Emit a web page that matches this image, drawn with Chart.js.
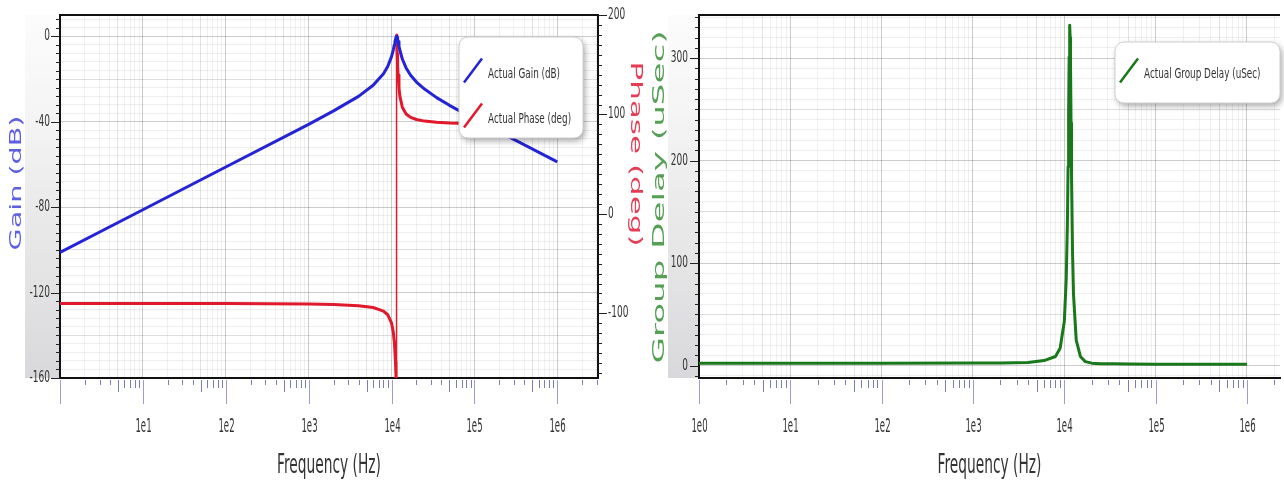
<!DOCTYPE html>
<html>
<head>
<meta charset="utf-8">
<script src="https://cdn.jsdelivr.net/npm/chart.js@4.4.1/dist/chart.umd.min.js"></script>
<style>
  html, body { margin: 0; padding: 0; background: #fff; }
  #wrap { position: relative; width: 1284px; height: 484px; overflow: hidden; }
  .box { position: absolute; top: 0; height: 484px; }
  #leftBox { left: 0; width: 645px; }
  #rightBox { left: 645px; width: 639px; }
</style>
</head>
<body>
<div id="wrap">
  <div class="box" id="leftBox"><canvas id="bodeChart"></canvas></div>
  <div class="box" id="rightBox"><canvas id="delayChart"></canvas></div>
</div>
<script>
// Values
const freqHz = [1, 10, 100, 1000, 2000, 4000, 6000, 8000, 9000, 10000,
  10500, 10800, 11000, 11150, 11300, 11400, 11500, 11600, 11700, 11850,
  12000, 12300, 12600, 13500, 15000, 17000, 20000, 25000, 35000, 50000,
  100000, 1000000]
const gainDb = [-101.2, -81.2, -61.2, -41.2, -34.9, -28.1, -22.9, -17.5, -14.1, -9.5,
  -6.4, -4.1, -2.5, -1.4, -0.5, -0.1, 0, -0.1, -0.5, -1.3,
  -2.4, -4.5, -6.4, -10.6, -14.8, -18.2, -21.4, -24.7, -28.7, -32.3,
  -38.7, -58.8]

// phase wraps from -180 to +180 at the resonance, so that frequency appears twice
const phaseFreqHz = [1, 10, 100, 1000, 2000, 4000, 6000, 8000, 9000, 10000,
  10500, 10800, 11000, 11150, 11300, 11400, 11500, 11500, 11600, 11700,
  11850, 12000, 12300, 12600, 13500, 15000, 17000, 20000, 25000, 35000,
  50000, 100000, 1000000]
const phaseDeg = [-90.0, -90.0, -90.1, -90.5, -91.0, -92.3, -94.1, -97.7, -101.4, -109.6,
  -118.8, -128.5, -138.4, -148.3, -160.7, -170.1, -180, 180, 170.2, 161.0,
  149.0, 139.6, 126.6, 118.7, 107.3, 100.5, 97.1, 94.9, 93.3, 92.1,
  91.4, 90.7, 90.1]

const delayUs = [2.5, 2.5, 2.5, 2.6, 2.7, 3.2, 5.0, 9.0, 17, 43,
  85, 137, 194, 248, 301, 325, 332, 320, 292, 237,
  185, 111, 70, 25, 9, 4, 2.5, 2, 1.8, 1.6,
  1.5, 1.5]

const FONT = "'DejaVu Sans', Verdana, sans-serif"

function isDecade(v) {
  const e = Math.log10(v)
  return Math.abs(e - Math.round(e)) < 1e-9
}

function mantissa(v) {
  return Math.round(v / Math.pow(10, Math.floor(Math.log10(v) + 1e-9)))
}

// 1..9 x 10^k ticks for the frequency axis
function logTicks(scale) {
  const ticks = []
  for (let k = 0; k <= 7; k++) {
    for (let m = 1; m <= 9; m++) {
      const v = m * Math.pow(10, k)
      if (v >= scale.min && v <= scale.max) ticks.push({ value: v })
    }
  }
  scale.ticks = ticks
}

function linearTicks(step) {
  return scale => {
    const ticks = []
    for (let v = Math.ceil(scale.min / step) * step; v <= scale.max + 1e-9; v += step) {
      ticks.push({ value: Math.round(v * 1000) / 1000 })
    }
    scale.ticks = ticks
  }
}

// the reference uses a tall, squeezed typeface: draw text compressed sideways
function squeezed(ctx, text, x, y, font, sx, align, color) {
  ctx.save()
  ctx.translate(x, y)
  ctx.scale(sx, 1)
  ctx.font = font
  ctx.fillStyle = color
  ctx.textAlign = align
  ctx.textBaseline = 'middle'
  ctx.fillText(text, 0, 0)
  ctx.restore()
}

function tickLabel(scale, t, i) {
  return scale.options.ticks.callback.call(scale, t.value, i, scale.ticks)
}

// gray band, frame, tick marks, tick labels and axis titles
const axisDecor = {
  id: 'axisDecor',
  beforeDraw(chart, args, opts) {
    const { ctx, chartArea: a } = chart
    const g = ctx.createLinearGradient(0, a.top, 0, a.bottom)
    g.addColorStop(0, 'rgba(238,238,238,0.2)')
    g.addColorStop(0.5, 'rgba(222,222,222,0.6)')
    g.addColorStop(1, 'rgba(212,212,216,0.9)')
    ctx.save()
    ctx.fillStyle = g
    ctx.fillRect(a.left - opts.bandWidth, a.top, opts.bandWidth, a.bottom - a.top)
    ctx.restore()
  },
  afterDraw(chart, args, opts) {
    const { ctx, chartArea: a } = chart
    ctx.save()
    ctx.strokeStyle = '#111'
    ctx.lineWidth = 2
    ctx.beginPath()
    ctx.moveTo(a.left, a.top)
    ctx.lineTo(a.right, a.top)
    ctx.stroke()

    // frequency tick marks hanging below the axis, with labels
    const xs = chart.scales.x
    ctx.lineWidth = 1
    xs.ticks.forEach((t, i) => {
      const px = Math.round(xs.getPixelForValue(t.value)) + 0.5
      const m = mantissa(t.value)
      const len = m === 1 ? 24 : m === 5 ? 12 : m < 5 ? 5 : 8
      ctx.strokeStyle = m === 1 ? 'rgba(120,120,210,0.75)' : 'rgba(90,90,170,0.8)'
      ctx.beginPath()
      ctx.moveTo(px, a.bottom + 2)
      ctx.lineTo(px, a.bottom + 2 + len)
      ctx.stroke()
      const label = tickLabel(xs, t, i)
      if (label) squeezed(ctx, label, px, a.bottom + 49, '19px ' + FONT, 0.45, 'center', '#333')
    })
    squeezed(ctx, 'Frequency (Hz)', (a.left + a.right) / 2, a.bottom + 88,
      '26px ' + FONT, 0.53, 'center', '#333')

    // value axis tick marks and labels
    ctx.strokeStyle = '#222'
    opts.yTicks.forEach(({ id, side }) => {
      const s = chart.scales[id]
      const edge = side === 'left' ? a.left : a.right
      const dir = side === 'left' ? -1 : 1
      s.ticks.forEach((t, i) => {
        const py = Math.round(s.getPixelForValue(t.value)) + 0.5
        const label = tickLabel(s, t, i)
        const len = label ? 9 : 4
        ctx.beginPath()
        ctx.moveTo(edge, py)
        ctx.lineTo(edge + dir * len, py)
        ctx.stroke()
        if (label) {
          squeezed(ctx, label, edge + dir * opts.labelGap, py, '15px ' + FONT, 0.6,
            side === 'left' ? 'right' : 'left', '#333')
        }
      })
    })

    // axis titles, stretched along their reading direction
    opts.titles.forEach(t => {
      ctx.save()
      ctx.font = t.font
      const w = ctx.measureText(t.text).width
      ctx.translate(t.x, t.y)
      ctx.rotate(t.rotate)
      ctx.scale(t.length / w, 1)
      ctx.fillStyle = t.color
      ctx.textAlign = 'center'
      ctx.textBaseline = 'middle'
      ctx.fillText(t.text, 0, 0)
      ctx.restore()
    })
    ctx.restore()
  }
}

// legend box floating inside the plot
const floatLegend = {
  id: 'floatLegend',
  afterDatasetsDraw(chart, args, opts) {
    const { ctx, chartArea: a } = chart
    const x = a.right - opts.right - opts.width
    const y = a.top + opts.top
    ctx.save()
    ctx.shadowColor = 'rgba(0,0,0,0.35)'
    ctx.shadowBlur = 6
    ctx.shadowOffsetX = 2
    ctx.shadowOffsetY = 3
    ctx.fillStyle = '#fff'
    ctx.beginPath()
    ctx.roundRect(x, y, opts.width, opts.height, 9)
    ctx.fill()
    ctx.shadowColor = 'transparent'
    ctx.strokeStyle = '#cfcfcf'
    ctx.lineWidth = 1
    ctx.stroke()
    chart.data.datasets.forEach((ds, i) => {
      const cy = y + opts.firstRow + i * opts.rowGap
      ctx.strokeStyle = ds.borderColor
      ctx.lineWidth = 2.5
      ctx.beginPath()
      ctx.moveTo(x + 5, cy + 12)
      ctx.lineTo(x + 23, cy - 12)
      ctx.stroke()
      squeezed(ctx, ds.label, x + 29, cy + 4, '14px ' + FONT, 0.63, 'left', '#333')
    })
    ctx.restore()
  }
}

function freqAxis(max, showFirst) {
  return {
    type: 'logarithmic',
    min: 1,
    max: max,
    afterBuildTicks: logTicks,
    afterFit: s => { s.height = 106 },
    border: { display: true, color: '#111', width: 2 },
    grid: {
      drawTicks: false,
      color: c => {
        const v = c.tick ? c.tick.value : 1
        if (isDecade(v)) return 'rgba(0,0,0,0.2)'
        return mantissa(v) === 5 ? 'rgba(0,0,0,0.11)' : 'rgba(0,0,0,0.06)'
      }
    },
    ticks: {
      display: false,
      autoSkip: false,
      callback: v => {
        if (!isDecade(v)) return ''
        const e = Math.round(Math.log10(v))
        if (e === 0 && !showFirst) return ''
        return '1e' + e
      }
    }
  }
}

function hGrid(major, mid) {
  return c => {
    const v = c.tick ? c.tick.value : 0
    if (v % major === 0) return 'rgba(0,0,0,0.2)'
    if (v % mid === 0) return 'rgba(0,0,0,0.13)'
    return 'rgba(0,0,0,0.065)'
  }
}

new Chart(document.getElementById('bodeChart'), {
  type: 'line',
  data: {
    datasets: [
      {
        label: 'Actual Gain (dB)',
        data: freqHz.map((f, i) => ({ x: f, y: gainDb[i] })),
        yAxisID: 'y',
        borderColor: 'rgb(35,35,215)',
        borderWidth: 3,
        borderJoinStyle: 'round',
        pointRadius: 0,
        tension: 0
      },
      {
        label: 'Actual Phase (deg)',
        data: phaseFreqHz.map((f, i) => ({ x: f, y: phaseDeg[i] })),
        yAxisID: 'y2',
        borderColor: 'rgb(225,25,45)',
        borderWidth: 3,
        borderJoinStyle: 'round',
        pointRadius: 0,
        tension: 0,
        segment: {
          borderWidth: c => (c.p0.parsed.x === c.p1.parsed.x ? 1.5 : 3)
        }
      }
    ]
  },
  options: {
    responsive: true,
    maintainAspectRatio: false,
    animation: false,
    layout: { padding: { top: 15, left: 0, right: 0, bottom: 0 } },
    plugins: {
      legend: { display: false },
      tooltip: { enabled: false },
      axisDecor: {
        bandWidth: 35,
        labelGap: 10,
        yTicks: [{ id: 'y', side: 'left' }, { id: 'y2', side: 'right' }],
        titles: [
          { text: 'Gain (dB)', x: 17, y: 183, rotate: -Math.PI / 2, length: 135,
            color: 'rgb(95,95,230)', font: '16px ' + FONT },
          { text: 'Phase (deg)', x: 635, y: 154, rotate: Math.PI / 2, length: 185,
            color: 'rgb(232,60,85)', font: '16px ' + FONT }
        ]
      },
      floatLegend: { right: 15, top: 22, width: 124, height: 101, firstRow: 33.5, rowGap: 45 }
    },
    scales: {
      x: freqAxis(3.1e6, false),
      y: {
        position: 'left',
        min: -160,
        max: 10,
        afterBuildTicks: linearTicks(4),
        afterFit: s => { s.width = 60 },
        border: { display: true, color: '#111', width: 2 },
        grid: { drawTicks: false, color: hGrid(40, 20) },
        ticks: {
          display: false,
          autoSkip: false,
          callback: v => (v % 40 === 0 ? String(v) : '')
        }
      },
      y2: {
        position: 'right',
        min: -165,
        max: 200,
        afterBuildTicks: linearTicks(10),
        afterFit: s => { s.width = 47 },
        border: { display: true, color: '#111', width: 2 },
        grid: { drawTicks: false, drawOnChartArea: false },
        ticks: {
          display: false,
          autoSkip: false,
          callback: v => (v % 100 === 0 ? String(v) : '')
        }
      }
    }
  },
  plugins: [axisDecor, floatLegend]
})

new Chart(document.getElementById('delayChart'), {
  type: 'line',
  data: {
    datasets: [
      {
        label: 'Actual Group Delay (uSec)',
        data: freqHz.map((f, i) => ({ x: f, y: delayUs[i] })),
        yAxisID: 'y',
        borderColor: 'rgb(25,120,25)',
        borderWidth: 3,
        borderJoinStyle: 'round',
        pointRadius: 0,
        tension: 0
      }
    ]
  },
  options: {
    responsive: true,
    maintainAspectRatio: false,
    animation: false,
    layout: { padding: { top: 15, left: 0, right: 4, bottom: 0 } },
    plugins: {
      legend: { display: false },
      tooltip: { enabled: false },
      axisDecor: {
        bandWidth: 31,
        labelGap: 11,
        yTicks: [{ id: 'y', side: 'left' }],
        titles: [
          { text: 'Group Delay (uSec)', x: 15, y: 197, rotate: -Math.PI / 2, length: 333,
            color: 'rgb(85,160,85)', font: '16px ' + FONT }
        ]
      },
      floatLegend: { right: 0, top: 27, width: 165, height: 61, firstRow: 28.5, rowGap: 0 }
    },
    scales: {
      x: freqAxis(2.3e6, true),
      y: {
        position: 'left',
        min: -12,
        max: 342,
        afterBuildTicks: linearTicks(10),
        afterFit: s => { s.width = 54 },
        border: { display: true, color: '#111', width: 2 },
        grid: { drawTicks: false, color: hGrid(100, 50) },
        ticks: {
          display: false,
          autoSkip: false,
          callback: v => (v % 100 === 0 ? String(v) : '')
        }
      }
    }
  },
  plugins: [axisDecor, floatLegend]
})
</script>
</body>
</html>
